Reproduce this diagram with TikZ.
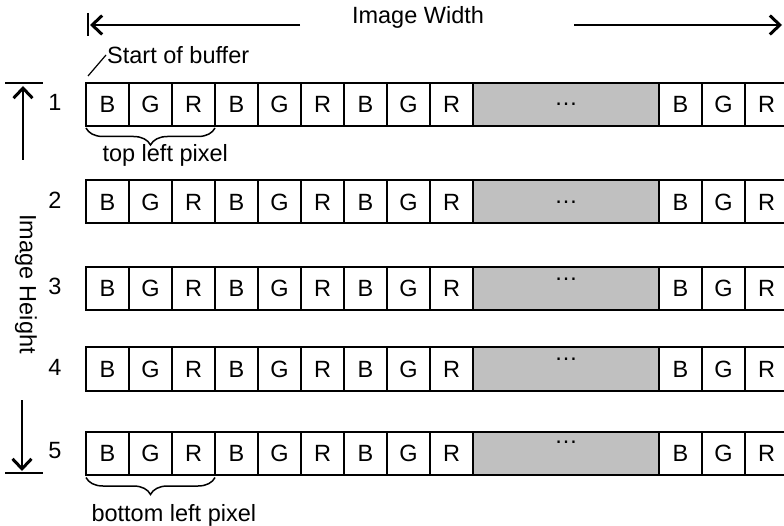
\documentclass[tikz,border=0pt]{standalone}
\usepackage{fontspec}
\setmainfont{Liberation Sans}
\usetikzlibrary{positioning}
\usetikzlibrary{arrows.meta}
\usetikzlibrary{decorations.pathreplacing}
\definecolor{lgrey}{RGB}{192,192,192}

\begin{document}
\begin{tikzpicture}[x=1pt,y=-1pt,>={Straight Barb[length=10pt,width=19pt,line width=3pt]},font=\fontsize{23.5}{28}\selectfont]
      \tikzstyle{cell}=[draw=black,line width=2pt,minimum width=43pt,minimum height=43pt,inner sep=0pt,outer sep=0pt]
      \tikzstyle{gapcell}=[cell,fill=lgrey,minimum width=186pt]
      \tikzstyle{bar}=[line width=2pt]
      \tikzstyle{bigarrow}=[->,line width=2.8pt]
      \tikzstyle{pixbrace}=[decorate,decoration={brace,mirror,amplitude=17pt},line width=1.5pt]

      \useasboundingbox (0,0) rectangle (784,526);

      % rows of the buffer
      \foreach \r/\y/\d in {1/104.5/0,2/202/0,3/288.7/9,4/369/10,5/453/11}{
        \foreach \l [count=\k] in {B,G,R,B,G,R,B,G,R}
          \node[cell] (c\r-\k) at ({107.5+43*(\k-1)},\y) {\l};
        \node[gapcell] (gap\r) [right=0pt of c\r-9] {};
        \node (dots\r) at ([yshift=\d pt]gap\r.center) {…};
        \node[cell] (c\r-10) [right=0pt of gap\r] {B};
        \node[cell] (c\r-11) [right=0pt of c\r-10] {G};
        \node[cell] (c\r-12) [right=0pt of c\r-11] {R};
        \node (n\r) [left=21pt of c\r-1,yshift=2pt] {\r};
      }

      % image width
      \node (width) at (418,17) {Image Width};
      \coordinate (wl) at (88,25);
      \coordinate (wr) at (783,25);
      \coordinate (wlfrom) at (300,25);
      \coordinate (wrfrom) at (574,25);
      \draw[bigarrow] (wlfrom) -- ([xshift=2pt]wl);
      \draw[bigarrow] (wrfrom) -- ([xshift=-1pt]wr);
      \draw[bar] ([yshift=12pt]wl) -- ([yshift=-11pt]wl);

      % image height
      \node[rotate=-90] (height) at (26,284) {Image Height};
      \coordinate (ht) at (23,84);
      \coordinate (hb) at (22,473);
      \draw[bigarrow] (23,160) -- ([yshift=-2pt]ht);
      \draw[bigarrow] (22,400) -- ([yshift=2pt]hb);
      \draw[bar] (5,83) -- (43,83);
      \draw[bar] (5,473) -- (43,473);

      % start of buffer
      \node[anchor=west,inner sep=1pt] (start) at (106,55) {Start of buffer};
      \coordinate (sb) at (88,76);
      \draw[line width=1.2pt] (start.west) -- (sb);

      % pixels
      \draw[pixbrace] ([yshift=-2pt]c1-1.south west) -- ([yshift=-2pt]c1-3.south east);
      \node[anchor=west] (tl) at (99,155) {top left pixel};
      \draw[pixbrace] ([yshift=-3pt]c5-1.south west) -- ([yshift=-3pt]c5-3.south east);
      \node[anchor=west] (bl) at (88,515) {bottom left pixel};
\end{tikzpicture}
\end{document}
